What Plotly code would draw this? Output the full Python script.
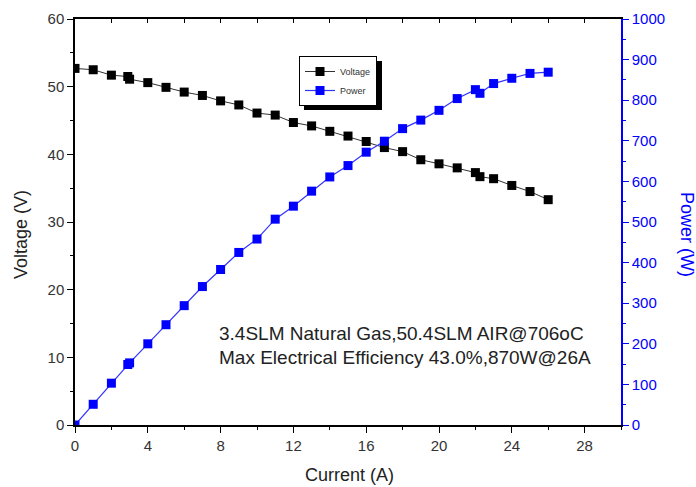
import plotly.graph_objects as go

# ---- data ----
current = [0, 1, 2, 2.9, 3, 4, 5, 6, 7, 8, 9, 10, 11, 12, 13, 14, 15, 16, 17,
           18, 19, 20, 21, 22, 22.25, 23, 24, 25, 26]
voltage = [52.7, 52.5, 51.7, 51.5, 51.1, 50.6, 49.9, 49.2, 48.7, 47.9, 47.3, 46.1,
           45.8, 44.7, 44.2, 43.4, 42.7, 41.9, 41.0, 40.4, 39.2, 38.6, 38.0, 37.3,
           36.7, 36.4, 35.4, 34.5, 33.3]
power = [0, 51, 103, 149, 153, 200, 247, 294, 341, 383, 425, 458, 507, 539, 576,
         611, 639, 672, 699, 730, 751, 775, 804, 826, 817, 841, 854, 866, 869]

series_names = ["Voltage", "Power"]
x_title = "Current (A)"
y1_title = "Voltage (V)"
y2_title = "Power (W)"
note_lines = ["3.4SLM Natural Gas,50.4SLM AIR@706oC",
              "Max Electrical Efficiency 43.0%,870W@26A"]

FONT = "Arial, Liberation Sans, sans-serif"
BLUE = "#0000ff"

# plot-area geometry in pixels (used only to place paper-referenced items)
W, H = 696, 487
ML, MR, MT, MB = 75, 75, 19, 62
PW, PH = W - ML - MR, H - MT - MB


def px(xp):
    return (xp - ML) / PW


def py(yp):
    return (H - MB - yp) / PH


fig = go.Figure()
fig.add_trace(go.Scatter(
    x=current, y=voltage, name=series_names[0], mode="lines+markers",
    line=dict(color="#333333", width=1),
    marker=dict(symbol="square", size=9, color="#000000"),
    xaxis="x", yaxis="y"))
fig.add_trace(go.Scatter(
    x=current, y=power, name=series_names[1], mode="lines+markers",
    line=dict(color="#3333ff", width=1.2),
    marker=dict(symbol="square", size=9, color=BLUE),
    xaxis="x", yaxis="y2"))
# carrier for the top (mirror) axis
fig.add_trace(go.Scatter(x=[], y=[], xaxis="x2", yaxis="y", showlegend=False,
                         hoverinfo="skip"))

tickfont = dict(family=FONT, size=15, color="#333333")

fig.update_layout(
    width=W, height=H,
    margin=dict(l=ML, r=MR, t=MT, b=MB, autoexpand=False),
    paper_bgcolor="white", plot_bgcolor="white",
    font=dict(family=FONT, color="#222222"),
    showlegend=True,
    legend=dict(x=px(299), y=py(56), xanchor="left", yanchor="top",
                bgcolor="white", bordercolor="black", borderwidth=1,
                font=dict(family=FONT, size=9, color="#333333"),
                tracegroupgap=0, itemwidth=30),
    xaxis=dict(range=[0, 30], dtick=4, tick0=0, ticks="outside", ticklen=6,
               tickcolor="black", tickwidth=1, automargin=False,
               minor=dict(dtick=2, ticks="outside", ticklen=3, tickcolor="black"),
               showline=True, linecolor="black", linewidth=1.5,
               showgrid=False, zeroline=False, tickfont=tickfont),
    xaxis2=dict(range=[0, 30], overlaying="x", side="top", dtick=2, tick0=0,
                ticks="inside", ticklen=4, tickcolor="black", automargin=False,
                showticklabels=False, showline=True, linecolor="black",
                linewidth=1.5, showgrid=False, zeroline=False),
    yaxis=dict(range=[0, 60], dtick=10, tick0=0, ticks="outside", ticklen=6,
               tickcolor="black", automargin=False,
               minor=dict(dtick=5, ticks="outside", ticklen=3, tickcolor="black"),
               showline=True, linecolor="black", linewidth=1.5,
               showgrid=False, zeroline=False, tickfont=tickfont),
    yaxis2=dict(range=[0, 1000], dtick=100, tick0=0, overlaying="y", side="right",
                ticks="outside", ticklen=6, tickcolor=BLUE, automargin=False,
                minor=dict(dtick=50, ticks="outside", ticklen=3, tickcolor=BLUE),
                showline=True, linecolor=BLUE, linewidth=1.5,
                showgrid=False, zeroline=False,
                tickfont=dict(family=FONT, size=15, color=BLUE)),
    shapes=[dict(type="rect", xref="paper", yref="paper",
                 x0=px(304), x1=px(382), y0=py(110), y1=py(61),
                 fillcolor="black", line=dict(width=0), layer="above")],
    annotations=[
        dict(text=x_title, xref="paper", yref="paper", x=px(349), y=py(475),
             xanchor="center", yanchor="middle", showarrow=False,
             font=dict(family=FONT, size=18, color="#222222")),
        dict(text=y1_title, xref="paper", yref="paper", x=px(21), y=py(235),
             xanchor="center", yanchor="middle", textangle=-90, showarrow=False,
             font=dict(family=FONT, size=18, color="#222222")),
        dict(text=y2_title, xref="paper", yref="paper", x=px(687), y=py(234),
             xanchor="center", yanchor="middle", textangle=90, showarrow=False,
             font=dict(family=FONT, size=18, color=BLUE)),
        dict(text=note_lines[0], xref="paper", yref="paper", x=px(217), y=py(333),
             xanchor="left", yanchor="middle", showarrow=False,
             font=dict(family=FONT, size=19, color="#222222")),
        dict(text=note_lines[1], xref="paper", yref="paper", x=px(217), y=py(357),
             xanchor="left", yanchor="middle", showarrow=False,
             font=dict(family=FONT, size=19, color="#222222")),
    ],
)

fig.write_html(
    "out.html",
    config={"displayModeBar": False},
    post_script="document.body.style.margin='0px';"
                "document.documentElement.style.overflow='hidden';",
)
